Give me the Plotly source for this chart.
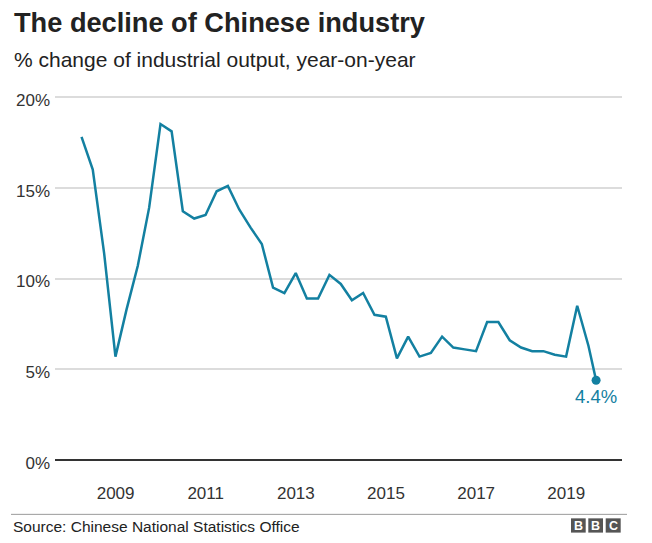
import plotly.graph_objects as go

# ---- data (quarter-end readings, last point = Aug 2019) ----
dates = [
    "2008-03-31", "2008-06-30", "2008-09-30", "2008-12-31",
    "2009-03-31", "2009-06-30", "2009-09-30", "2009-12-31",
    "2010-03-31", "2010-06-30", "2010-09-30", "2010-12-31",
    "2011-03-31", "2011-06-30", "2011-09-30", "2011-12-31",
    "2012-03-31", "2012-06-30", "2012-09-30", "2012-12-31",
    "2013-03-31", "2013-06-30", "2013-09-30", "2013-12-31",
    "2014-03-31", "2014-06-30", "2014-09-30", "2014-12-31",
    "2015-03-31", "2015-06-30", "2015-09-30", "2015-12-31",
    "2016-03-31", "2016-06-30", "2016-09-30", "2016-12-31",
    "2017-03-31", "2017-06-30", "2017-09-30", "2017-12-31",
    "2018-03-31", "2018-06-30", "2018-09-30", "2018-12-31",
    "2019-03-31", "2019-06-30", "2019-08-31",
]
output_growth = [
    17.8, 16.0, 11.4, 5.7,
    8.3, 10.7, 13.9, 18.5,
    18.1, 13.7, 13.3, 13.5,
    14.8, 15.1, 13.8, 12.8,
    11.9, 9.5, 9.2, 10.3,
    8.9, 8.9, 10.2, 9.7,
    8.8, 9.2, 8.0, 7.9,
    5.6, 6.8, 5.7, 5.9,
    6.8, 6.2, 6.1, 6.0,
    7.6, 7.6, 6.6, 6.2,
    6.0, 6.0, 5.8, 5.7,
    8.5, 6.3, 4.4,
]
x_tick_vals = ["2009-01-01", "2011-01-01", "2013-01-01", "2015-01-01", "2017-01-01", "2019-01-01"]
x_tick_text = ["2009", "2011", "2013", "2015", "2017", "2019"]
y_tick_vals = [0, 5, 10, 15, 20]
y_tick_text = ["0%", "5%", "10%", "15%", "20%"]

TEAL = "#1380A1"
FONT = "Liberation Sans, Arial, Helvetica, sans-serif"

W, H = 652, 543
ML, MR, MT, MB = 55, 30, 94.5, 80.5
PW = W - ML - MR
PH = H - MT - MB


def px_x(p):
    return (p - ML) / PW


def px_y(p):
    return (H - MB - p) / PH


fig = go.Figure()
fig.add_trace(go.Scatter(
    x=dates, y=output_growth, mode="lines",
    line=dict(color=TEAL, width=2.5),
    hoverinfo="skip", showlegend=False,
))
fig.add_trace(go.Scatter(
    x=[dates[-1]], y=[output_growth[-1]], mode="markers",
    marker=dict(color=TEAL, size=9),
    hoverinfo="skip", showlegend=False,
))

annotations = [
    dict(text="<b>The decline of Chinese industry</b>", xref="paper", yref="paper",
         x=px_x(11.5), y=px_y(21.5), xanchor="left", yanchor="middle", showarrow=False,
         font=dict(family=FONT, size=27.2, color="#222222")),
    dict(text="% change of industrial output, year-on-year", xref="paper", yref="paper",
         x=px_x(12), y=px_y(58.5), xanchor="left", yanchor="middle", showarrow=False,
         font=dict(family=FONT, size=21, color="#222222")),
    dict(text="Source: Chinese National Statistics Office", xref="paper", yref="paper",
         x=px_x(11), y=px_y(527), xanchor="left", yanchor="middle", showarrow=False,
         font=dict(family=FONT, size=15.5, color="#222222")),
    dict(text=f"{output_growth[-1]}%", x=dates[-1], y=output_growth[-1],
         xanchor="center", yanchor="middle", yshift=-16.5, showarrow=False,
         font=dict(family=FONT, size=18.5, color=TEAL)),
]

shapes = [
    dict(type="line", xref="paper", yref="paper", x0=px_x(11), x1=px_x(627),
         y0=px_y(515), y1=px_y(515), line=dict(color="#9a9a9a", width=1)),
]
# BBC blocks
for i, (x0, x1) in enumerate([(571, 585.7), (588.3, 603), (605.7, 620.7)]):
    shapes.append(dict(type="rect", xref="paper", yref="paper",
                       x0=px_x(x0), x1=px_x(x1), y0=px_y(533.3), y1=px_y(519),
                       fillcolor="#555555", line=dict(width=0)))
    annotations.append(dict(text="<b>" + "BBC"[i] + "</b>", xref="paper", yref="paper",
                            x=px_x((x0 + x1) / 2), y=px_y(526.3), xanchor="center",
                            yanchor="middle", showarrow=False,
                            font=dict(family=FONT, size=12.5, color="white")))

fig.update_layout(
    width=W, height=H,
    margin=dict(l=ML, r=MR, t=MT, b=MB, pad=0),
    paper_bgcolor="white", plot_bgcolor="white",
    font=dict(family=FONT, size=17, color="#333333"),
    showlegend=False,
    annotations=annotations,
    shapes=shapes,
    xaxis=dict(
        type="date", range=["2007-08-29", "2020-03-28"],
        tickmode="array", tickvals=x_tick_vals, ticktext=x_tick_text,
        showgrid=False, zeroline=False, showline=False, ticks="",
        ticklabelstandoff=19,
        tickfont=dict(family=FONT, size=17, color="#333333"),
        fixedrange=True,
    ),
    yaxis=dict(
        range=[-0.1, 20.1],
        tickmode="array", tickvals=y_tick_vals, ticktext=y_tick_text,
        showgrid=True, gridcolor="#dcdcdc", gridwidth=1.5,
        zeroline=True, zerolinecolor="#333333", zerolinewidth=2,
        showline=False, ticks="", ticklabelstandoff=4, ticklabelshift=3,
        tickfont=dict(family=FONT, size=17, color="#333333"),
        fixedrange=True,
    ),
)

fig.write_html(
    "out.html",
    config={"displayModeBar": False},
    post_script="document.body.style.margin='0px';document.body.style.overflow='hidden';",
)
